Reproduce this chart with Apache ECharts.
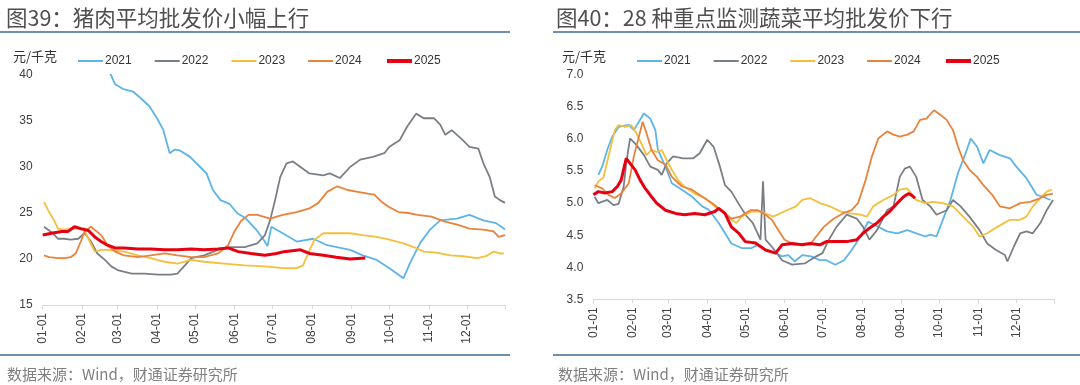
<!DOCTYPE html>
<html><head><meta charset="utf-8">
<script src="https://cdn.jsdelivr.net/npm/echarts@6/dist/echarts.min.js"></script>
<style>html,body{margin:0;padding:0;background:#fff}#c{width:1080px;height:385px}</style>
</head><body><div id="c"></div>
<script>
// ---- categories (day-of-year labels MM-DD) ----
const monthDays = [31,28,31,30,31,30,31,31,30,31,30,31];
const categories = [];
monthDays.forEach((n, m) => { for (let d = 1; d <= n; d++) categories.push(String(m+1).padStart(2,'0') + '-' + String(d).padStart(2,'0')); });
const seriesNames = ['2021','2022','2023','2024','2025'];
const colors = ['#5DB4E8','#7A7F86','#F5BF3C','#E9833A','#E60012'];

// ---- Pork average wholesale price (元/千克), [dayIndex, value] ----
const pork2021 = [[53,40.2],[57,39.0],[63,38.5],[71,38.2],[77,37.5],[84,36.6],[90,35.3],[95,34.0],[100,31.5],[104,31.9],[108,31.8],[116,31.1],[124,30.0],[129,29.3],[134,27.5],[140,26.4],[147,26.0],[153,25.0],[160,24.4],[168,23.2],[174,22.1],[177,21.4],[180,23.5],[189,22.8],[200,21.9],[213,22.2],[224,21.5],[242,21.0],[252,20.4],[263,19.9],[273,19.0],[284,17.9],[289,19.5],[297,21.7],[305,23.2],[313,24.2],[326,24.4],[336,24.8],[347,24.2],[357,23.9],[364,23.2]];
const pork2022 = [[1,23.5],[8,22.8],[12,22.2],[17,22.2],[22,22.1],[28,22.2],[33,22.8],[38,21.9],[43,20.6],[49,19.9],[54,19.2],[59,18.8],[70,18.4],[80,18.4],[91,18.3],[101,18.3],[106,18.4],[112,19.3],[117,20.1],[127,20.4],[138,21.0],[148,21.3],[159,21.3],[169,21.7],[175,22.6],[179,24.2],[183,26.4],[187,28.9],[192,30.4],[197,30.6],[203,30.0],[210,29.3],[221,29.1],[226,29.3],[234,28.8],[242,30.0],[250,30.8],[260,31.1],[269,31.5],[273,32.2],[281,32.9],[287,34.4],[294,35.8],[300,35.3],[308,35.3],[313,34.6],[317,33.5],[322,34.0],[331,32.9],[336,32.2],[343,32.0],[347,30.4],[352,28.9],[356,26.8],[360,26.4],[364,26.1]];
const pork2023 = [[1,26.2],[5,25.1],[9,24.2],[12,23.3],[17,23.2],[22,23.3],[28,23.3],[33,23.1],[36,22.2],[41,20.8],[46,21.0],[51,21.0],[64,20.8],[75,20.4],[85,20.1],[96,19.7],[106,19.5],[117,19.9],[127,19.7],[143,19.5],[159,19.3],[175,19.2],[189,19.0],[200,19.0],[205,19.3],[209,20.6],[214,22.1],[221,22.8],[231,22.8],[242,22.8],[252,22.6],[263,22.4],[273,22.1],[284,21.7],[292,21.3],[300,20.8],[310,20.7],[321,20.4],[331,20.3],[342,20.1],[349,20.3],[355,20.8],[360,20.6],[363,20.6]];
const pork2024 = [[1,20.4],[5,20.2],[12,20.1],[17,20.1],[22,20.2],[26,20.6],[30,21.9],[33,23.0],[38,23.5],[46,22.6],[51,21.5],[57,20.8],[64,20.4],[75,20.2],[85,20.4],[96,20.6],[106,20.4],[117,20.2],[127,20.2],[138,20.6],[146,21.5],[151,23.0],[156,24.1],[162,24.8],[169,24.8],[179,24.4],[189,24.8],[200,25.1],[210,25.5],[217,26.1],[224,27.3],[232,27.9],[240,27.5],[248,27.3],[256,27.1],[261,27.0],[267,26.2],[272,25.7],[280,25.1],[288,25.0],[295,24.8],[306,24.6],[316,24.1],[327,23.7],[336,23.3],[347,23.2],[355,23.0],[359,22.4],[364,22.6]];
const pork2025 = [[0,22.6],[7,22.8],[15,23.0],[20,23.0],[25,23.5],[30,23.3],[36,23.1],[41,22.4],[46,21.9],[51,21.5],[57,21.2],[64,21.2],[75,21.1],[85,21.1],[96,21.0],[106,21.0],[117,21.1],[127,21.0],[138,21.1],[146,21.2],[154,20.8],[164,20.6],[175,20.4],[184,20.6],[190,20.8],[203,21.0],[210,20.6],[221,20.4],[231,20.2],[242,20.0],[254,20.1]];

// ---- 28 key vegetables average wholesale price (元/千克) ----
const veg2021 = [[4,5.44],[7,5.57],[11,5.83],[15,6.04],[20,6.19],[28,6.22],[32,6.14],[36,6.27],[40,6.40],[45,6.32],[49,6.14],[51,5.83],[57,5.57],[62,5.31],[70,5.21],[78,5.10],[86,4.95],[91,4.90],[99,4.69],[104,4.53],[109,4.37],[117,4.30],[125,4.30],[130,4.35],[136,4.27],[144,4.22],[149,4.17],[154,4.19],[159,4.09],[165,4.19],[172,4.17],[179,4.11],[184,4.11],[191,4.04],[198,4.11],[204,4.27],[211,4.48],[217,4.71],[224,4.64],[232,4.56],[240,4.53],[248,4.58],[255,4.53],[262,4.48],[266,4.51],[271,4.48],[276,4.74],[282,5.05],[288,5.47],[294,5.78],[298,6.01],[303,5.88],[308,5.62],[313,5.83],[321,5.75],[329,5.70],[334,5.57],[342,5.39],[350,5.13],[355,5.10],[361,5.05]];
const veg2022 = [[1,5.10],[4,5.00],[11,5.05],[16,4.97],[20,4.99],[24,5.26],[26,5.62],[29,6.01],[34,5.91],[40,5.75],[45,5.57],[51,5.52],[54,5.44],[58,5.62],[63,5.73],[71,5.70],[79,5.70],[84,5.78],[90,5.99],[95,5.88],[100,5.57],[104,5.28],[109,5.18],[116,4.95],[121,4.80],[126,4.69],[132,4.43],[134,5.34],[136,4.43],[141,4.32],[149,4.11],[157,4.04],[167,4.06],[171,4.11],[176,4.17],[181,4.22],[186,4.43],[192,4.63],[200,4.82],[208,4.76],[213,4.63],[218,4.43],[224,4.58],[232,4.89],[237,4.95],[242,5.41],[246,5.54],[250,5.57],[255,5.41],[260,5.05],[266,4.95],[271,4.82],[279,4.89],[284,5.05],[290,4.95],[297,4.79],[305,4.58],[311,4.37],[318,4.27],[325,4.19],[327,4.09],[332,4.32],[337,4.53],[342,4.56],[347,4.53],[353,4.69],[358,4.89],[363,5.05]];
const veg2023 = [[1,5.23],[4,5.34],[8,5.40],[12,5.73],[17,6.14],[20,6.22],[25,6.19],[30,6.22],[34,6.09],[38,5.93],[42,5.75],[46,5.83],[50,5.80],[54,5.83],[58,5.67],[62,5.52],[67,5.36],[72,5.26],[80,5.15],[88,5.08],[96,4.95],[104,4.84],[109,4.74],[113,4.69],[117,4.79],[125,4.87],[132,4.87],[142,4.79],[153,4.89],[160,4.95],[165,5.05],[171,5.08],[179,5.00],[187,4.95],[195,4.87],[203,4.84],[211,4.82],[216,4.79],[221,4.95],[229,5.05],[237,5.13],[242,5.21],[248,5.23],[255,5.05],[262,5.00],[268,5.02],[276,5.00],[284,4.95],[292,4.79],[300,4.63],[305,4.48],[311,4.53],[319,4.63],[329,4.74],[337,4.74],[342,4.79],[347,4.95],[353,5.08],[358,5.18],[362,5.21]];
const veg2024 = [[1,5.28],[7,5.23],[12,5.13],[17,5.08],[22,5.15],[28,5.31],[32,5.73],[36,6.04],[39,6.27],[42,6.09],[46,5.83],[51,5.67],[57,5.60],[62,5.41],[70,5.26],[78,5.21],[86,5.10],[94,5.00],[101,4.89],[109,4.76],[116,4.79],[124,4.89],[130,4.89],[136,4.82],[141,4.74],[146,4.58],[151,4.43],[159,4.35],[167,4.37],[171,4.35],[176,4.48],[182,4.63],[190,4.76],[197,4.84],[204,4.89],[209,5.00],[215,5.36],[220,5.73],[225,6.01],[232,6.12],[237,6.07],[242,6.04],[248,6.07],[253,6.12],[258,6.30],[263,6.32],[269,6.45],[274,6.38],[279,6.30],[284,6.14],[288,5.88],[292,5.67],[297,5.52],[303,5.41],[308,5.28],[315,5.13],[321,4.95],[329,4.92],[337,5.00],[345,5.02],[353,5.08],[358,5.13],[363,5.15]];
const veg2025 = [[0,5.13],[4,5.18],[9,5.16],[15,5.18],[19,5.26],[22,5.36],[26,5.70],[29,5.62],[33,5.52],[37,5.36],[41,5.23],[46,5.10],[50,5.00],[57,4.89],[65,4.84],[72,4.82],[80,4.84],[88,4.82],[96,4.87],[99,4.92],[104,4.84],[109,4.63],[115,4.53],[120,4.40],[128,4.38],[136,4.27],[144,4.22],[149,4.35],[157,4.37],[165,4.35],[171,4.37],[179,4.35],[184,4.40],[192,4.40],[200,4.40],[208,4.43],[213,4.53],[218,4.61],[224,4.69],[229,4.79],[234,4.87],[240,5.00],[245,5.10],[249,5.15],[251,5.13],[254,5.08]];

const porkSeries = [pork2021, pork2022, pork2023, pork2024, pork2025];
const vegSeries = [veg2021, veg2022, veg2023, veg2024, veg2025];

const toData = arr => arr.map(p => [categories[p[0]], p[1]]);
const FONT = '"Noto Sans CJK SC", "Liberation Sans", sans-serif';

function makeX(idx) {
  return {
    type: 'category', gridIndex: idx, data: categories, boundaryGap: false,
    axisLine: { lineStyle: { color: '#D9D9D9', width: 1 } },
    axisTick: { length: 4, lineStyle: { color: '#D9D9D9' },
      interval: (i, v) => v.endsWith('-01') || i === categories.length - 1 },
    axisLabel: { rotate: 90, margin: 8, color: '#404040', fontSize: 12, fontFamily: '"Liberation Sans", sans-serif',
      interval: (i, v) => v.endsWith('-01') },
    splitLine: { show: false }
  };
}
function makeY(idx, min, max, interval, dec) {
  return {
    type: 'value', gridIndex: idx, min, max, interval,
    axisLine: { show: false }, axisTick: { show: false }, splitLine: { show: false },
    axisLabel: { color: '#404040', fontSize: 12, margin: 10, fontFamily: '"Liberation Sans", sans-serif',
      formatter: v => v.toFixed(dec) }
  };
}
const series = [];
[porkSeries, vegSeries].forEach((group, g) => {
  group.forEach((arr, k) => {
    series.push({
      name: seriesNames[k], type: 'line', xAxisIndex: g, yAxisIndex: g,
      data: toData(arr), symbol: 'none', smooth: false,
      lineStyle: { color: colors[k], width: k === 4 ? 3 : 1.8 },
      itemStyle: { color: colors[k] }, z: k === 4 ? 5 : 2
    });
  });
});

const thinNames = seriesNames.slice(0, 4);
const thickNames = seriesNames.slice(4);
function makeLegends(x0) {
  const base = { top: 55, itemWidth: 25, itemGap: 23, icon: 'rect', padding: 0,
    textStyle: { fontSize: 12, color: '#333', fontFamily: '"Liberation Sans", sans-serif', padding: [0, 0, 0, -3] } };
  return [
    Object.assign({}, base, { data: thinNames, left: x0, itemHeight: 2 }),
    Object.assign({}, base, { data: thickNames, left: x0 + 4 * 77.25, itemHeight: 4 })
  ];
}

const chart = echarts.init(document.getElementById('c'));
chart.setOption({
  animation: false,
  backgroundColor: '#fff',
  title: [
    { text: '图39：猪肉平均批发价小幅上行', left: 1, top: 2, textStyle: { fontSize: 21.5, fontWeight: 'normal', color: '#4F4F4F', fontFamily: FONT } },
    { text: '图40：28 种重点监测蔬菜平均批发价下行', left: 551, top: 2, textStyle: { fontSize: 21.5, fontWeight: 'normal', color: '#4F4F4F', fontFamily: FONT } },
    { text: '数据来源：Wind，财通证券研究所', left: 2, top: 362, textStyle: { fontSize: 15, fontWeight: 'normal', color: '#7F7F7F', fontFamily: FONT } },
    { text: '数据来源：Wind，财通证券研究所', left: 553, top: 362, textStyle: { fontSize: 15, fontWeight: 'normal', color: '#7F7F7F', fontFamily: FONT } }
  ],
  legend: makeLegends(78).concat(makeLegends(637)),
  grid: [
    { left: 42.7, right: 575, top: 75, bottom: 80 },
    { left: 593.3, right: 25.7, top: 75, bottom: 85.7 }
  ],
  xAxis: [makeX(0), makeX(1)],
  yAxis: [makeY(0, 15, 40, 5, 0), makeY(1, 3.5, 7, 0.5, 1)],
  series,
  graphic: [
    { type: 'line', shape: { x1: 0, y1: 32, x2: 510, y2: 32 }, style: { stroke: '#3B6A95', lineWidth: 1.5 } },
    { type: 'line', shape: { x1: 553, y1: 32, x2: 1080, y2: 32 }, style: { stroke: '#3B6A95', lineWidth: 1.5 } },
    { type: 'line', shape: { x1: 0, y1: 355, x2: 510, y2: 355 }, style: { stroke: '#3B6A95', lineWidth: 1.5 } },
    { type: 'line', shape: { x1: 553, y1: 355, x2: 1080, y2: 355 }, style: { stroke: '#3B6A95', lineWidth: 1.5 } },
    { type: 'text', left: 13, top: 50, style: { text: '元/千克', fill: '#333', font: '13px ' + FONT } },
    { type: 'text', left: 562, top: 50, style: { text: '元/千克', fill: '#333', font: '13px ' + FONT } }
  ]
});
</script></body></html>
